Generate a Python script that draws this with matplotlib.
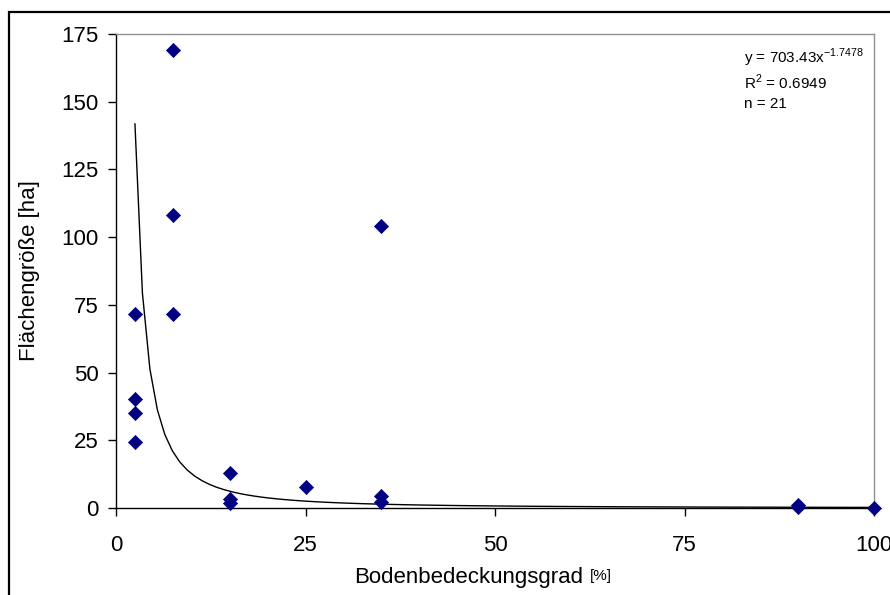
import numpy as np
import matplotlib
matplotlib.use("Agg")
import matplotlib.pyplot as plt
from matplotlib.patches import Rectangle

plt.rcParams['font.family'] = ['Liberation Sans', 'DejaVu Sans']

# Data
cover = [2.5, 2.5, 2.5, 2.5, 7.5, 7.5, 7.5, 15, 15, 15, 25, 35, 35, 35, 90, 90, 100]
area = [71.6, 40.4, 35.0, 24.4, 169.0, 108.2, 71.6, 13.1, 3.4, 1.8, 7.8, 104.1, 4.4, 2.2, 1.2, 0.3, 0.0]

# Power trendline coefficients (from annotation)
coef_a = 703.43
coef_b = -1.7478
r2 = 0.6949
n_obs = 21

xticks = [0, 25, 50, 75, 100]
yticks = [0, 25, 50, 75, 100, 125, 150, 175]

fig = plt.figure(figsize=(8.9, 5.95), dpi=100)
ax = fig.add_axes([116/890, 1 - 508/595, (874 - 116)/890, (508 - 34)/595])

# trend line (sampled coarsely like the spreadsheet trendline)
xt = np.linspace(2.5, 100, 100)
ax.plot(xt, coef_a * xt ** coef_b, color='black', lw=1.0, zorder=2)

ax.scatter(cover, area, marker='D', s=52, color='#000080', edgecolors='#000080',
           linewidths=0.5, zorder=3, clip_on=False)

ax.set_xlim(0, 100)
ax.set_ylim(0, 175)
ax.set_xticks(xticks)
ax.set_yticks(yticks)
ax.tick_params(axis='both', direction='out', length=5.5, width=1, labelsize=16, colors='black')
ax.tick_params(axis='x', pad=14)
ax.tick_params(axis='y', pad=7)

for s in ['left', 'bottom']:
    ax.spines[s].set_color('black')
    ax.spines[s].set_linewidth(1.0)
for s in ['top', 'right']:
    ax.spines[s].set_color('#909090')
    ax.spines[s].set_linewidth(1.0)

# axis labels
fig.text(354/890, 1 - 578/595, 'Bodenbedeckungsgrad', fontsize=16, ha='left', va='center')
fig.text(590/890, 1 - 576/595, '[%]', fontsize=11, ha='left', va='center')
fig.text(30/890, 1 - 271/595, 'Flächengröße [ha]', fontsize=16, rotation=90,
         ha='center', va='center')

# annotation
ax.text(0.829, 0.949, r'y = %.2fx$^{\mathregular{%.4f}}$' % (coef_a, coef_b),
        transform=ax.transAxes, fontsize=11, ha='left', va='center')
ax.text(0.829, 0.899, r'R$^{\mathregular{2}}$ = ' + f'{r2:.4f}',
        transform=ax.transAxes, fontsize=11, ha='left', va='center')
ax.text(0.829, 0.852, f'n = {n_obs}', transform=ax.transAxes, fontsize=11,
        ha='left', va='center')

# outer frame
fig.patches.append(Rectangle((9/890, -0.1), 1.2, 1 - 12/595 + 0.1, transform=fig.transFigure,
                             fill=False, edgecolor='black', linewidth=1.6))

fig.savefig('out.png', dpi=100)
